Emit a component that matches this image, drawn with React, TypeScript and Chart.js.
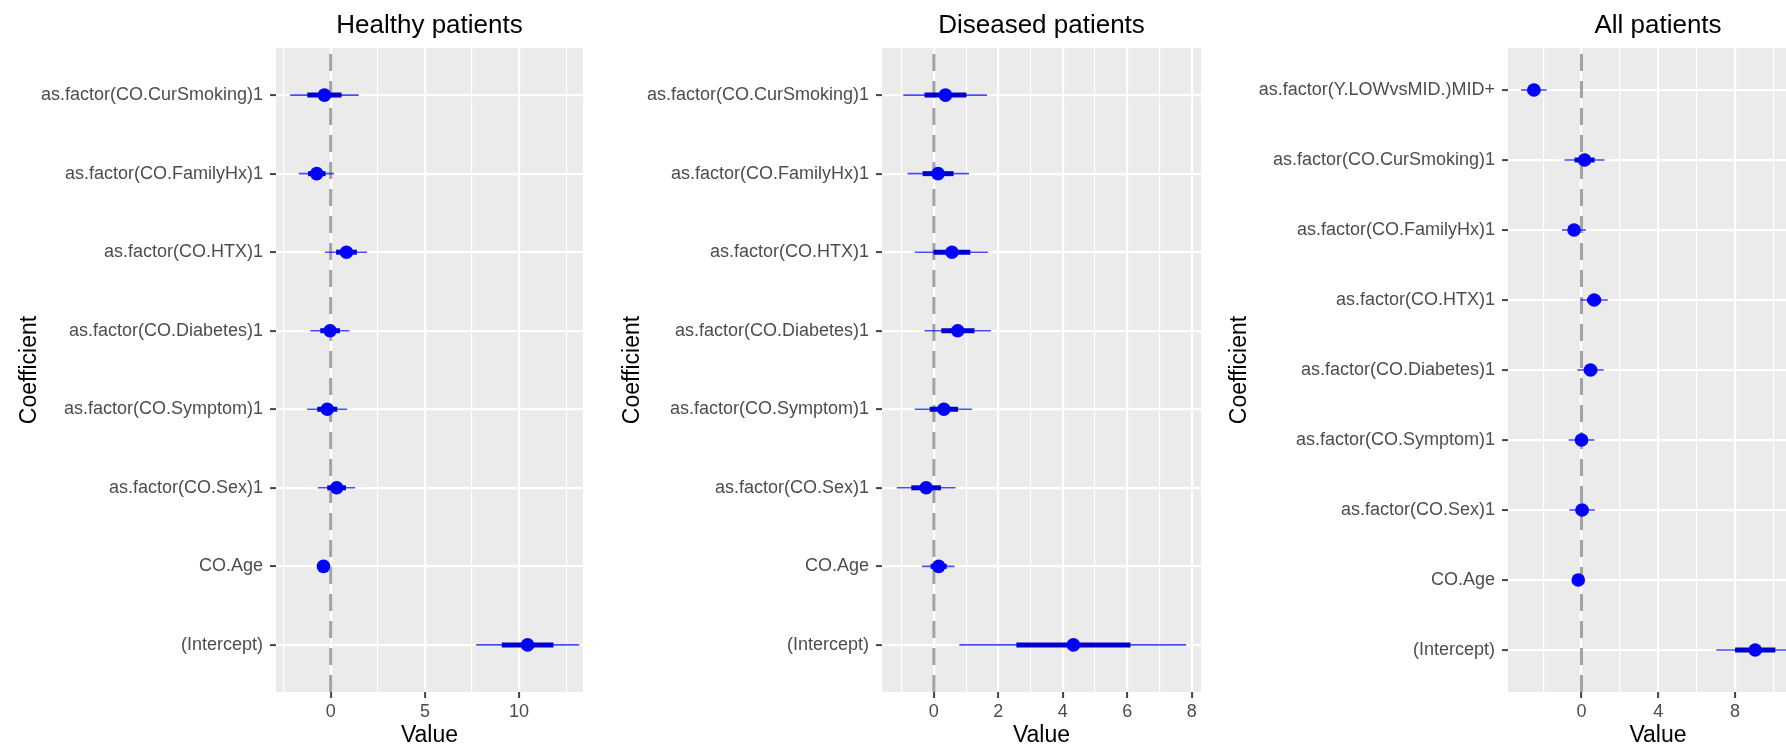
import React, { useEffect, useRef } from "react";
import { Chart, registerables } from "chart.js";

Chart.register(...registerables);

// ---------------- data ----------------
const healthyCoefficients = [
  "as.factor(CO.CurSmoking)1",
  "as.factor(CO.FamilyHx)1",
  "as.factor(CO.HTX)1",
  "as.factor(CO.Diabetes)1",
  "as.factor(CO.Symptom)1",
  "as.factor(CO.Sex)1",
  "CO.Age",
  "(Intercept)",
];
const healthyEstimate = [-0.33, -0.74, 0.84, -0.03, -0.18, 0.32, -0.38, 10.45];
const healthyInnerLow = [-1.24, -1.2, 0.29, -0.55, -0.71, -0.18, -0.5, 9.08];
const healthyInnerHigh = [0.58, -0.27, 1.39, 0.49, 0.35, 0.81, -0.26, 11.82];
const healthyOuterLow = [-2.15, -1.69, -0.3, -1.08, -1.25, -0.68, -0.62, 7.72];
const healthyOuterHigh = [1.49, 0.17, 1.93, 1.0, 0.88, 1.3, -0.14, 13.19];

const diseasedCoefficients = [
  "as.factor(CO.CurSmoking)1",
  "as.factor(CO.FamilyHx)1",
  "as.factor(CO.HTX)1",
  "as.factor(CO.Diabetes)1",
  "as.factor(CO.Symptom)1",
  "as.factor(CO.Sex)1",
  "CO.Age",
  "(Intercept)",
];
const diseasedEstimate = [0.36, 0.13, 0.56, 0.74, 0.31, -0.24, 0.15, 4.33];
const diseasedInnerLow = [-0.29, -0.35, -0.01, 0.23, -0.13, -0.7, -0.1, 2.56];
const diseasedInnerHigh = [1.01, 0.61, 1.13, 1.26, 0.75, 0.22, 0.4, 6.1];
const diseasedOuterLow = [-0.95, -0.82, -0.59, -0.29, -0.59, -1.15, -0.37, 0.79];
const diseasedOuterHigh = [1.65, 1.09, 1.68, 1.77, 1.18, 0.67, 0.64, 7.83];

const allCoefficients = [
  "as.factor(Y.LOWvsMID.)MID+",
  "as.factor(CO.CurSmoking)1",
  "as.factor(CO.FamilyHx)1",
  "as.factor(CO.HTX)1",
  "as.factor(CO.Diabetes)1",
  "as.factor(CO.Symptom)1",
  "as.factor(CO.Sex)1",
  "CO.Age",
  "(Intercept)",
];
const allEstimate = [-2.48, 0.16, -0.39, 0.66, 0.47, 0.0, 0.03, -0.17, 9.05];
const allInnerLow = [-2.81, -0.36, -0.7, 0.3, 0.12, -0.33, -0.3, -0.25, 8.0];
const allInnerHigh = [-2.15, 0.68, -0.08, 1.02, 0.82, 0.33, 0.36, -0.09, 10.1];
const allOuterLow = [-3.15, -0.89, -1.02, -0.05, -0.22, -0.67, -0.63, -0.33, 7.02];
const allOuterHigh = [-1.82, 1.2, 0.23, 1.37, 1.16, 0.67, 0.69, -0.01, 11.08];

const healthyMajorTicks = [0, 5, 10];
const healthyMinorTicks = [-2.5, 2.5, 7.5, 12.5];
const diseasedMajorTicks = [0, 2, 4, 6, 8];
const diseasedMinorTicks = [-1, 1, 3, 5, 7];
const allMajorTicks = [0, 4, 8];
const allMinorTicks = [-2, 2, 6, 10];

const referenceValue = 0;

// ---------------- styling ----------------
const FONT = "'Liberation Sans', Arial, Helvetica, sans-serif";
const CANVAS_H = 747;

type PanelSpec = {
  title: string;
  labels: string[];
  est: number[];
  innerLo: number[];
  innerHi: number[];
  outerLo: number[];
  outerHi: number[];
  major: number[];
  minor: number[];
  xMin: number;
  xMax: number;
  left: number;
  width: number;
  yAxisWidth: number;
  padRight: number;
  yTitlePad: number;
};

const panels: PanelSpec[] = [
  {
    title: "Healthy patients",
    labels: healthyCoefficients,
    est: healthyEstimate,
    innerLo: healthyInnerLow,
    innerHi: healthyInnerHigh,
    outerLo: healthyOuterLow,
    outerHi: healthyOuterHigh,
    major: healthyMajorTicks,
    minor: healthyMinorTicks,
    xMin: -2.9,
    xMax: 13.39,
    left: 0,
    width: 600,
    yAxisWidth: 276,
    padRight: 17,
    yTitlePad: 16.2,
  },
  {
    title: "Diseased patients",
    labels: diseasedCoefficients,
    est: diseasedEstimate,
    innerLo: diseasedInnerLow,
    innerHi: diseasedInnerHigh,
    outerLo: diseasedOuterLow,
    outerHi: diseasedOuterHigh,
    major: diseasedMajorTicks,
    minor: diseasedMinorTicks,
    xMin: -1.61,
    xMax: 8.29,
    left: 600,
    width: 610,
    yAxisWidth: 282,
    padRight: 9,
    yTitlePad: 18.7,
  },
  {
    title: "All patients",
    labels: allCoefficients,
    est: allEstimate,
    innerLo: allInnerLow,
    innerHi: allInnerHigh,
    outerLo: allOuterLow,
    outerHi: allOuterHigh,
    major: allMajorTicks,
    minor: allMinorTicks,
    xMin: -3.83,
    xMax: 11.8,
    left: 1210,
    width: 610,
    yAxisWidth: 298,
    padRight: 12,
    yTitlePad: 16,
  },
];

const panelBackgroundPlugin = {
  id: "panelBackground",
  beforeDraw(chart: any) {
    const { ctx, chartArea } = chart;
    ctx.save();
    ctx.fillStyle = "#EBEBEB";
    ctx.fillRect(chartArea.left, chartArea.top, chartArea.right - chartArea.left, chartArea.bottom - chartArea.top);
    ctx.restore();
  },
};

const referenceLinePlugin = {
  id: "referenceLine",
  beforeDatasetsDraw(chart: any) {
    const { ctx, chartArea } = chart;
    const x = chart.scales.x.getPixelForValue(referenceValue);
    ctx.save();
    ctx.strokeStyle = "#A3A3A3";
    ctx.lineWidth = 3;
    ctx.setLineDash([17, 10]);
    ctx.beginPath();
    ctx.moveTo(x, chartArea.bottom);
    ctx.lineTo(x, chartArea.top);
    ctx.stroke();
    ctx.restore();
  },
};

function CoefPanel({ spec }: { spec: PanelSpec }) {
  const ref = useRef<HTMLCanvasElement | null>(null);

  useEffect(() => {
    if (!ref.current) return;
    const n = spec.labels.length;
    const datasets: any[] = [
      {
        label: "estimate",
        data: spec.est.map((v, i) => ({ x: v, y: i })),
        pointRadius: 6.8,
        pointBackgroundColor: "#0000FF",
        pointBorderColor: "#0000FF",
        pointBorderWidth: 0,
        showLine: false,
        order: 0,
      },
    ];
    spec.labels.forEach((_, i) => {
      datasets.push({
        label: "inner" + i,
        data: [
          { x: spec.innerLo[i], y: i },
          { x: spec.innerHi[i], y: i },
        ],
        showLine: true,
        borderColor: "#0000CC",
        borderWidth: 5,
        borderCapStyle: "butt",
        pointRadius: 0,
        order: 1,
      });
      datasets.push({
        label: "outer" + i,
        data: [
          { x: spec.outerLo[i], y: i },
          { x: spec.outerHi[i], y: i },
        ],
        showLine: true,
        borderColor: "rgba(30,30,255,0.8)",
        borderWidth: 1.6,
        borderCapStyle: "butt",
        pointRadius: 0,
        order: 2,
      });
    });

    const allTicks = [...spec.major, ...spec.minor].sort((a, b) => a - b);
    const isMajor = (v: number) => spec.major.includes(v);

    const chart = new Chart(ref.current, {
      type: "scatter",
      data: { datasets },
      plugins: [panelBackgroundPlugin, referenceLinePlugin],
      options: {
        animation: false,
        responsive: false,
        events: [],
        layout: { padding: { left: 0, right: spec.padRight, top: 0, bottom: 0 } },
        plugins: {
          legend: { display: false },
          tooltip: { enabled: false },
          title: {
            display: true,
            text: spec.title,
            fullSize: false,
            color: "#000000",
            font: { family: FONT, size: 26, weight: "normal", lineHeight: 1.2 },
            padding: { top: 10.1, bottom: 6.7 },
          },
        },
        scales: {
          x: {
            type: "linear",
            position: "bottom",
            min: spec.xMin,
            max: spec.xMax,
            bounds: "data",
            afterBuildTicks: (s: any) => {
              s.ticks = allTicks.map((v) => ({ value: v }));
            },
            afterFit: (s: any) => {
              s.height = 55;
            },
            ticks: {
              autoSkip: false,
              maxRotation: 0,
              color: "#4D4D4D",
              padding: 3.2,
              font: { family: FONT, size: 18, lineHeight: 1.2 },
              callback: (v: any) => (isMajor(Number(v)) ? String(v) : ""),
            },
            grid: {
              color: "#FFFFFF",
              lineWidth: (c: any) => (c.tick && isMajor(c.tick.value) ? 2.2 : 1.1),
              tickLength: 6,
              tickWidth: 2,
              tickColor: (c: any) => (c.tick && isMajor(c.tick.value) ? "#444444" : "rgba(0,0,0,0)"),
            },
            border: { display: false },
            title: {
              display: true,
              text: "Value",
              color: "#000000",
              font: { family: FONT, size: 23, lineHeight: 1.0 },
              padding: { top: 0, bottom: 0 },
            },
          },
          y: {
            type: "linear",
            position: "left",
            reverse: true,
            min: -0.6,
            max: n - 1 + 0.6,
            bounds: "data",
            afterBuildTicks: (s: any) => {
              s.ticks = spec.labels.map((_, i) => ({ value: i }));
            },
            afterFit: (s: any) => {
              s.width = spec.yAxisWidth;
            },
            ticks: {
              autoSkip: false,
              color: "#4D4D4D",
              padding: 7,
              font: { family: FONT, size: 18, lineHeight: 1.2 },
              callback: (v: any) => spec.labels[Number(v)] ?? "",
            },
            grid: {
              color: "#FFFFFF",
              lineWidth: 2.2,
              tickLength: 6,
              tickWidth: 2,
              tickColor: "#444444",
            },
            border: { display: false },
            title: {
              display: true,
              text: "Coefficient",
              color: "#000000",
              font: { family: FONT, size: 23, lineHeight: 1.2 },
              padding: { top: spec.yTitlePad, bottom: 0 },
            },
          },
        },
      } as any,
    });
    return () => chart.destroy();
  }, [spec]);

  return (
    <div style={{ position: "absolute", left: spec.left, top: 0, width: spec.width, height: CANVAS_H }}>
      <canvas
        ref={ref}
        width={spec.width}
        height={CANVAS_H}
        style={{ width: spec.width, height: CANVAS_H, display: "block" }}
      />
    </div>
  );
}

export default function App() {
  return (
    <div
      style={{
        position: "fixed",
        left: 0,
        top: 0,
        width: 1786,
        height: CANVAS_H,
        overflow: "hidden",
        background: "#FFFFFF",
      }}
    >
      {panels.map((p) => (
        <CoefPanel key={p.title} spec={p} />
      ))}
    </div>
  );
}
